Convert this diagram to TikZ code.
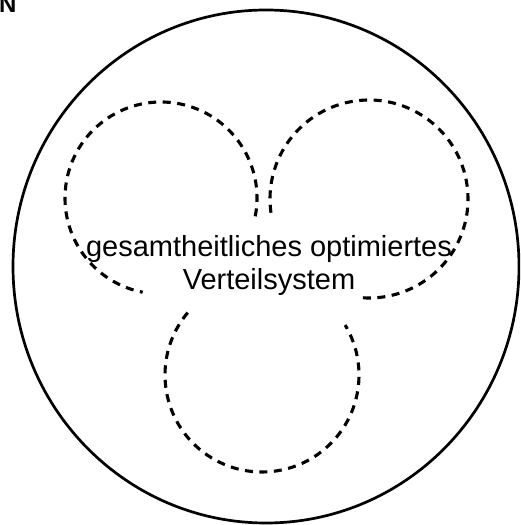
\documentclass[tikz,border=0pt]{standalone}
\usepackage{fontspec}
\setmainfont{Liberation Sans}
\usetikzlibrary{calc}
\begin{document}
\begin{tikzpicture}[x=1pt,y=1pt,
  outer/.style={line width=2.7pt},
  loop/.style={line width=3.1pt, dash pattern=on 8pt off 6.5pt},
  label/.style={font=\fontsize{29}{34}\selectfont, inner sep=0pt, anchor=base}]
\useasboundingbox (0,0) rectangle (520,525);
\clip (0,0) rectangle (520,525);
% fragment of a letter at top left
\node[font=\fontsize{24}{24}\selectfont\bfseries, inner sep=0pt, anchor=base west] (frag) at (-1,512) {N};
% outer circle
\draw[outer] (266,258.5) ellipse [x radius=253, y radius=256.5];
% dashed loops
\coordinate (cl) at (161,327);
\coordinate (cr) at (369,326);
\coordinate (cb) at (262,150);
\draw[loop] ($(cl)+(-11:96)$) arc[start angle=-11, end angle=259, radius=96];
\draw[loop] ($(cr)+(188:99)$) arc[start angle=188, end angle=-94, radius=99];
\draw[loop] ($(cb)+(140:97)$) arc[start angle=140, end angle=391, radius=97];
% text
\node[label] (t1) at (269,268) {gesamtheitliches optimiertes};
\node[label] (t2) at (269,235) {Verteilsystem};
\end{tikzpicture}
\end{document}
